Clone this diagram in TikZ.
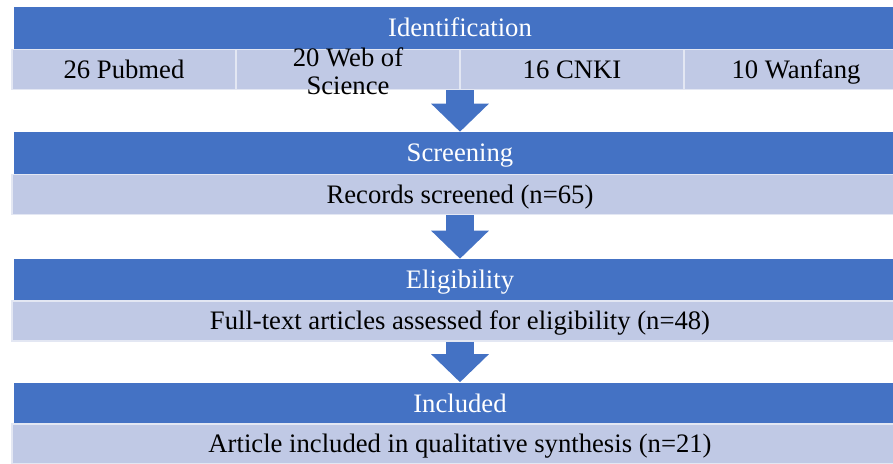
\documentclass[tikz,border=0pt]{standalone}
\usepackage{fontspec}
\setmainfont{Liberation Serif}
\usetikzlibrary{arrows.meta,positioning}

\definecolor{headblue}{RGB}{68,114,196}
\definecolor{bandblue}{RGB}{192,201,229}

\begin{document}
\begin{tikzpicture}[x=0.75pt, y=-0.75pt,
    head/.style={fill=headblue, text=white, minimum width=669pt, minimum height=31.5pt,
      inner sep=0pt, text height=13.5pt, text depth=0.5pt, font=\fontsize{20}{21}\selectfont},
    band/.style={fill=bandblue, draw=white!55!bandblue, line width=1.2pt, minimum width=672pt,
      minimum height=30pt, inner sep=0pt, text height=13.5pt, text depth=0.5pt,
      font=\fontsize{20}{21}\selectfont},
    cell/.style={band, minimum width=168pt},
    flow/.style={headblue, line width=21pt, -{Triangle[width=42pt, length=21pt]}}]

      \useasboundingbox (0,0) rectangle (893,464);
      \clip (0,0) rectangle (893,464);

      \def\mid{460}

      % Identification stage, one cell per database
      \node[head] (ident) at (\mid,28) {Identification};
      \node[cell] (pubmed) at (124,69.5) {26 Pubmed};
      \node[cell] (wos) at (348,69.5) {};
      \node[cell] (cnki) at (572,69.5) {16 CNKI};
      \node[cell] (wanfang) at (796,69.5) {10 Wanfang};
      \node[align=center, inner sep=0pt, font=\fontsize{20}{21}\selectfont] (woslabel) at ([yshift=-1pt]wos.center) {20 Web of\\Science};

      % Screening stage
      \node[head] (screen) at (\mid,153) {Screening};
      \node[band] (screened) at (\mid,194.5) {Records screened (n=65)};

      % Eligibility stage
      \node[head] (elig) at (\mid,280) {Eligibility};
      \node[band] (assessed) at (\mid,321) {Full-text articles assessed for eligibility (n=48)};

      % Included stage
      \node[head] (incl) at (\mid,403.5) {Included};
      \node[band] (included) at (\mid,444) {Article included in qualitative synthesis (n=21)};

      % block arrows between stages
      \draw[flow] (screen.north |- wos.south) -- (screen.north);
      \draw[flow] (screened.south) -- (elig.north);
      \draw[flow] (assessed.south) -- (incl.north);

\end{tikzpicture}
\end{document}
